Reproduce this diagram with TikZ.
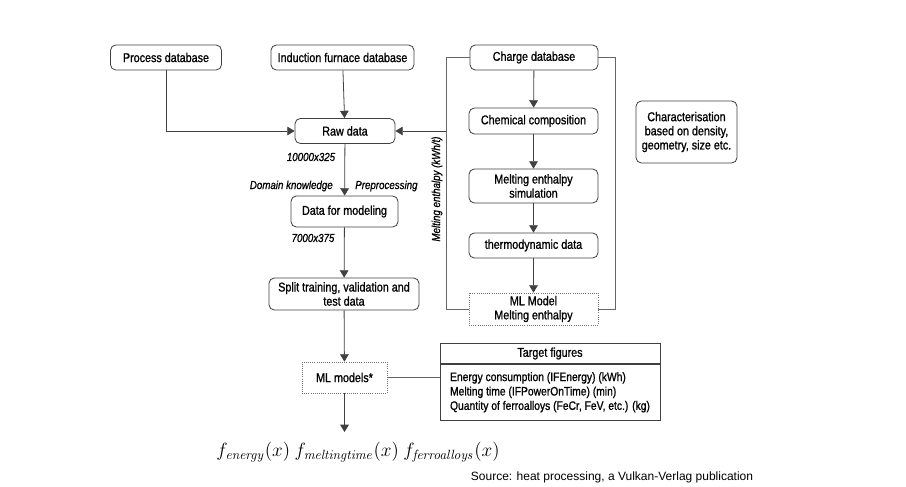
\documentclass[tikz,border=0pt]{standalone}
\usepackage[no-math]{fontspec}
\setmainfont[FakeStretch=0.84,FakeBold=0.9]{Liberation Sans}
\newfontfamily\srcfont{Liberation Sans}
\usetikzlibrary{arrows.meta}
\tikzset{
  box/.style={draw=black!75, line width=0.6pt, rounded corners=4pt, align=center, fill=white,
    font=\fontsize{9.6}{10.6}\selectfont, inner sep=1pt},
  dbox/.style={draw=black!55, densely dotted, line width=0.6pt, align=center, fill=white,
    font=\fontsize{9.6}{10.6}\selectfont, inner sep=1pt},
  arr/.style={draw=black!75, line width=0.6pt, -{Triangle[width=6.5pt,length=5.5pt]}},
  ln/.style={draw=black!60, line width=0.7pt},
  lab/.style={font=\fontsize{8.7}{10}\selectfont\itshape, inner sep=0pt}
}
\begin{document}
\begin{tikzpicture}[x=0.75pt,y=-0.75pt]
\useasboundingbox (0,0) rectangle (906,486);

% top databases
\node[box, minimum width=83.25pt, minimum height=18.75pt] (proc) at (166,57.5) {Process database};
\node[box, minimum width=107.25pt, minimum height=18.75pt] (ind) at (342.5,57.5) {Induction furnace database};
\node[box, minimum width=96pt, minimum height=18.75pt] (charge) at (534,57.5) {Charge database};

% left column
\node[box, minimum width=75pt, minimum height=18.75pt] (raw) at (345,131) {Raw data};
\node[box, minimum width=80.25pt, minimum height=23.25pt] (dfm) at (344.5,211.5) {Data for modeling};
\node[box, minimum width=112.5pt, minimum height=24pt] (split) at (344,294) {Split training, validation and\\test data};
\node[dbox, minimum width=63.75pt, minimum height=23.25pt] (mlm) at (344.5,377.5) {ML models*};

% right column
\node[box, minimum width=96.75pt, minimum height=19.5pt] (chem) at (533.5,121) {Chemical composition};
\node[box, minimum width=96.75pt, minimum height=25.5pt] (sim) at (533.5,186) {Melting enthalpy\\simulation};
\node[box, minimum width=96.75pt, minimum height=18.75pt] (thermo) at (533.5,245.5) {thermodynamic data};
\node[dbox, minimum width=96.75pt, minimum height=24pt] (mlme) at (533.5,309) {ML Model\\Melting enthalpy};

\node[box, minimum width=75.75pt, minimum height=46.5pt] (char) at (686.5,132) {Characterisation\\based on density,\\geometry, size etc.};

% frame around charge column
\coordinate (fl1) at (446,57.5);
\coordinate (fl2) at (446,309);
\coordinate (fr1) at (615,57.5);
\coordinate (fr2) at (615,309);
\coordinate (fa) at (446,131);
\draw[ln] (charge.west) -- (fl1) -- (fl2) -- (mlme.west);
\draw[ln] (charge.east) -- (fr1) -- (fr2) -- (mlme.east);
\draw[arr] (fa) -- (raw.east);
\node[lab, rotate=90] (mel) at (437,189) {Melting enthalpy (kWh/t)};

% arrows charge column
\draw[arr] (charge) -- (chem);
\draw[arr] (chem) -- (sim);
\draw[arr] (sim) -- (thermo);
\draw[arr] (thermo) -- (mlme);

% arrows left
\coordinate (pc) at (166,131);
\draw[arr] (proc.south) -- (pc) -- (raw.west);
\draw[arr] (ind) -- (raw);
\draw[arr] (raw) -- (dfm);
\draw[arr] (dfm) -- (split);
\draw[arr] (split) -- (mlm);
\coordinate (fend) at (344.5,432);
\draw[arr] (mlm) -- (fend);

% labels
\node[lab] (l1) at (311,157) {10000x325};
\node[lab, anchor=east] (l2) at (333,186) {Domain knowledge};
\node[lab, anchor=west] (l3) at (355,186) {Preprocessing};
\node[lab] (l4) at (313,238) {7000x375};

% target figures table
\node[draw=black!75, line width=0.6pt, minimum width=165pt, minimum height=15pt, inner sep=0pt,
  font=\fontsize{9.6}{10.6}\selectfont] (tfh) at (550,353.5) {Target figures};
\node[draw=black!75, line width=0.6pt, minimum width=165pt, minimum height=42pt, anchor=north,
  align=left, font=\fontsize{9.2}{10.8}\selectfont, inner sep=0pt] (tfb) at (tfh.south)
  {Energy consumption (IFEnergy) (kWh)\\Melting time (IFPowerOnTime) (min)\\Quantity of ferroalloys (FeCr, FeV, etc.) (kg)};
\draw[ln] (mlm.east) -- (mlm.east -| tfb.west);

% formula
\node[font=\fontsize{14}{17}\selectfont, inner sep=0pt] (form) at (358,452)
  {$f_{\mathit{energy}}(x)\ f_{\mathit{meltingtime}}(x)\ f_{\mathit{ferroalloys}}(x)$};
\node[font=\srcfont\fontsize{9}{10}\selectfont, inner sep=0pt] (src) at (612,477)
  {Source: heat processing, a Vulkan-Verlag publication};
\end{tikzpicture}
\end{document}
